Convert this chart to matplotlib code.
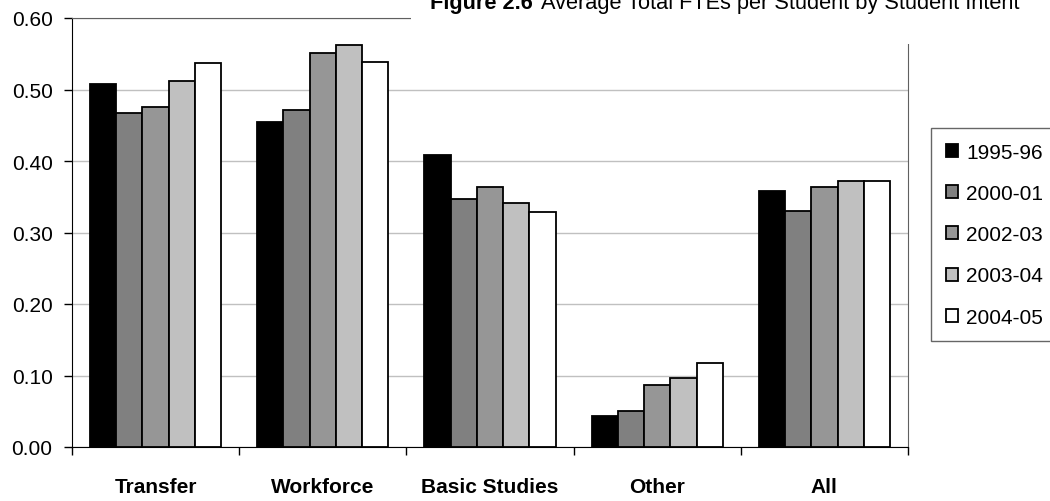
import matplotlib
matplotlib.use('Agg')
import matplotlib.pyplot as plt
import matplotlib.patches as patches
from matplotlib.ticker import FormatStrFormatter
import numpy as np

plt.rcParams['font.family'] = ['Liberation Sans', 'DejaVu Sans']

categories = ['Transfer', 'Workforce', 'Basic Studies', 'Other', 'All']
years = ['1995-96', '2000-01', '2002-03', '2003-04', '2004-05']
v1995 = [0.507, 0.454, 0.409, 0.043, 0.358]
v2000 = [0.467, 0.472, 0.347, 0.051, 0.330]
v2002 = [0.475, 0.551, 0.364, 0.087, 0.363]
v2003 = [0.512, 0.562, 0.341, 0.096, 0.372]
v2004 = [0.537, 0.539, 0.328, 0.117, 0.372]
series = [v1995, v2000, v2002, v2003, v2004]
colors = ['#000000', '#808080', '#969696', '#c0c0c0', '#ffffff']

fig = plt.figure(figsize=(10.5, 5.02), dpi=100)
ax = fig.add_axes([72/1050, 54/502, 836/1050, 429/502])

x = np.arange(len(categories))
w = 0.157
for i, vals in enumerate(series):
    ax.bar(x + (i - 2) * w, vals, w, color=colors[i], edgecolor='black',
           linewidth=1.3, label=years[i], zorder=3)

ax.set_xlim(-0.5, 4.5)
ax.set_ylim(0, 0.6)
ax.set_yticks(np.arange(0, 0.61, 0.1))
ax.yaxis.set_major_formatter(FormatStrFormatter('%.2f'))
ax.grid(axis='y', color='#c0c0c0', linewidth=1, zorder=0)
ax.set_axisbelow(True)

ax.set_xticks(x)
ax.set_xticklabels(categories, fontweight='bold', fontsize=15)
ax.set_xticks(np.arange(-0.5, 4.6, 1), minor=True)
ax.tick_params(axis='x', which='major', length=0, pad=21.5)
ax.tick_params(axis='x', which='minor', length=6, width=1, direction='out')
ax.tick_params(axis='y', length=6, width=1, direction='out', pad=8, labelsize=15)

for s in ['left', 'bottom']:
    ax.spines[s].set_color('black')
for s in ['top', 'right']:
    ax.spines[s].set_color('#606060')

ax.legend(loc='upper left', bbox_to_anchor=(931/1050, 373/502), bbox_transform=fig.transFigure,
          frameon=True, fancybox=False, edgecolor='#404040', fontsize=15,
          handlelength=0.6, handleheight=0.6, handletextpad=0.4,
          labelspacing=1.07, borderpad=0.7, borderaxespad=0)

# white box behind the title that hides part of the plot frame
fig.add_artist(patches.Rectangle((411/1050, 457/502), 1, 1, transform=fig.transFigure,
                                 facecolor='white', edgecolor='none', zorder=5))
t1 = fig.text(430/1050, 493/502, 'Figure 2.6', fontsize=15.7, fontweight='bold',
              va='baseline', ha='left', zorder=6)
fig.canvas.draw()
bb = t1.get_window_extent()
fig.text(bb.x1 / 1050 + 8/1050, 493/502, 'Average Total FTEs per Student by Student Intent',
         fontsize=15.7, va='baseline', ha='left', zorder=6)

fig.savefig('out.png', dpi=100)
